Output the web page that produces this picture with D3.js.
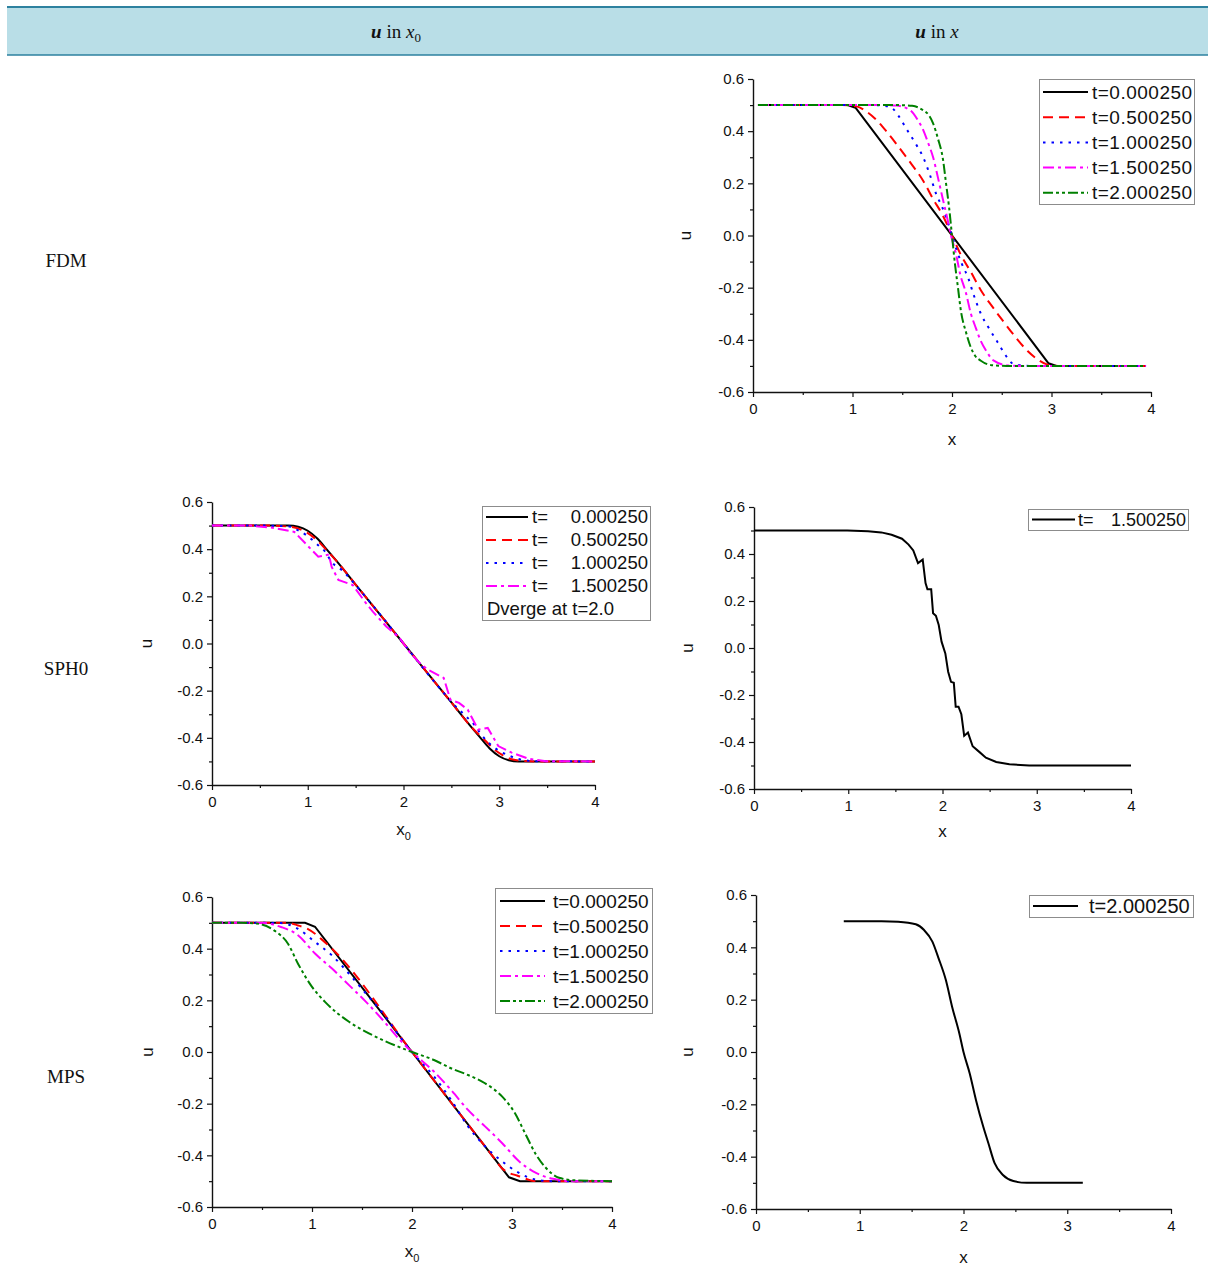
<!DOCTYPE html>
<html>
<head>
<meta charset="utf-8">
<script src="https://cdn.jsdelivr.net/npm/d3@7"></script>
<style>
  body { margin: 0; background: #fff; }
  svg { display: block; }
</style>
</head>
<body>
<svg id="fig" width="1208" height="1273"></svg>
<script>
// ---------- axis ticks and labels ----------
const xTicks = [0, 1, 2, 3, 4];
const xMinor = [0.5, 1.5, 2.5, 3.5];
const yTicks = [-0.6, -0.4, -0.2, 0.0, 0.2, 0.4, 0.6];
const yMinor = [-0.5, -0.3, -0.1, 0.1, 0.3, 0.5];
const rowLabels = ["FDM", "SPH0", "MPS"];

// ---------- FDM: u against x ----------
const fdmLabels = ["t=0.000250", "t=0.500250", "t=1.000250", "t=1.500250", "t=2.000250"];
const fdmT0 = [[0.05,0.5],[0.95,0.5],[1.03,0.49],[2.97,-0.49],[3.05,-0.5],[3.95,-0.5]];
const fdmT05 = [[0.05,0.5],[0.9,0.5],[1.04,0.495],[1.14,0.475],[1.24,0.443],[1.35,0.395],[1.475,0.334],[1.6,0.27],[1.71,0.21],[1.81,0.14],[1.91,0.075],[2.0,0],[2.09,-0.075],[2.19,-0.14],[2.29,-0.21],[2.4,-0.27],[2.525,-0.334],[2.65,-0.395],[2.76,-0.443],[2.86,-0.475],[2.96,-0.495],[3.1,-0.5],[3.95,-0.5]];
const fdmT10 = [[0.05,0.5],[1.2,0.5],[1.375,0.494],[1.46,0.46],[1.54,0.41],[1.63,0.355],[1.71,0.3],[1.78,0.23],[1.84,0.16],[1.9,0.11],[1.95,0.06],[2.0,0],[2.05,-0.06],[2.1,-0.11],[2.16,-0.16],[2.22,-0.23],[2.29,-0.3],[2.37,-0.355],[2.46,-0.41],[2.54,-0.46],[2.625,-0.494],[2.8,-0.5],[3.95,-0.5]];
const fdmT15 = [[0.05,0.5],[1.3,0.5],[1.44,0.498],[1.58,0.48],[1.66,0.44],[1.71,0.405],[1.76,0.355],[1.81,0.3],[1.86,0.22],[1.91,0.136],[1.95,0.07],[1.99,0.0],[2.04,-0.07],[2.08,-0.145],[2.14,-0.22],[2.19,-0.3],[2.24,-0.355],[2.29,-0.405],[2.34,-0.44],[2.42,-0.48],[2.56,-0.498],[2.7,-0.5],[3.95,-0.5]];
const fdmT20 = [[0.05,0.5],[1.45,0.5],[1.6,0.497],[1.71,0.48],[1.77,0.46],[1.81,0.43],[1.86,0.37],[1.91,0.29],[1.94,0.2],[1.97,0.11],[2.0,0],[2.03,-0.11],[2.06,-0.2],[2.09,-0.29],[2.14,-0.37],[2.19,-0.43],[2.23,-0.46],[2.29,-0.48],[2.4,-0.497],[2.55,-0.5],[3.95,-0.5]];

// ---------- SPH0: u against x0 ----------
const sphTimes = ["0.000250", "0.500250", "1.000250", "1.500250"];
const sphNote = "Dverge at t=2.0";
const sphT0 = [[0,0.5],[0.8,0.5],[0.9,0.495],[1.0,0.478],[1.1,0.445],[1.2,0.398],[1.3,0.35],[1.5,0.25],[2,0],[2.5,-0.25],[2.7,-0.35],[2.8,-0.398],[2.9,-0.445],[3.0,-0.478],[3.1,-0.495],[3.2,-0.5],[4,-0.5]];
const sphT05 = [[0,0.5],[0.6,0.5],[0.83,0.494],[1.0,0.468],[1.1,0.437],[1.18,0.403],[1.3,0.35],[1.5,0.25],[2,0],[2.5,-0.25],[2.7,-0.35],[2.85,-0.41],[2.95,-0.45],[3.03,-0.472],[3.12,-0.49],[3.2,-0.496],[3.38,-0.5],[4,-0.5]];
const sphT10 = [[0,0.5],[0.5,0.5],[0.79,0.497],[0.9,0.48],[1.0,0.455],[1.1,0.42],[1.18,0.39],[1.25,0.345],[1.36,0.31],[1.47,0.262],[1.6,0.2],[2,0],[2.4,-0.2],[2.53,-0.26],[2.63,-0.3],[2.74,-0.345],[2.82,-0.39],[2.9,-0.425],[3.0,-0.455],[3.1,-0.475],[3.2,-0.49],[3.38,-0.499],[4,-0.5]];
const sphT15 = [[0,0.5],[0.4,0.5],[0.65,0.49],[0.86,0.473],[1.06,0.389],[1.11,0.368],[1.22,0.377],[1.25,0.325],[1.32,0.269],[1.47,0.248],[1.61,0.17],[1.68,0.135],[1.82,0.072],[1.96,0.023],[2.07,-0.04],[2.17,-0.083],[2.25,-0.11],[2.42,-0.146],[2.49,-0.238],[2.58,-0.252],[2.67,-0.28],[2.78,-0.365],[2.88,-0.358],[2.99,-0.435],[3.13,-0.463],[3.31,-0.489],[3.49,-0.499],[4,-0.5]];

// ---------- SPH0: u against x ----------
const sphXTime = "1.500250";
const sphX15 = [[0,0.5],[0.99,0.5],[1.21,0.497],[1.35,0.492],[1.46,0.482],[1.57,0.465],[1.64,0.44],[1.69,0.415],[1.74,0.361],[1.79,0.376],[1.82,0.276],[1.84,0.25],[1.88,0.25],[1.9,0.148],[1.93,0.137],[1.96,0.098],[1.99,0.027],[2.03,-0.023],[2.06,-0.101],[2.09,-0.144],[2.12,-0.148],[2.14,-0.25],[2.17,-0.25],[2.2,-0.282],[2.23,-0.374],[2.27,-0.36],[2.32,-0.418],[2.39,-0.442],[2.46,-0.467],[2.57,-0.485],[2.71,-0.495],[2.92,-0.5],[4,-0.5]];

// ---------- MPS: u against x0 ----------
const mpsLabels = ["t=0.000250", "t=0.500250", "t=1.000250", "t=1.500250", "t=2.000250"];
const mpsT0 = [[0,0.5],[0.93,0.5],[1.03,0.485],[2,0],[2.97,-0.485],[3.08,-0.5],[4,-0.5]];
const mpsT05 = [[0,0.5],[0.75,0.5],[0.86,0.49],[0.95,0.478],[1.03,0.458],[1.1,0.435],[1.2,0.4],[2,0],[2.8,-0.4],[2.9,-0.45],[2.97,-0.468],[3.05,-0.478],[3.1,-0.485],[3.2,-0.498],[3.3,-0.5],[4,-0.5]];
const mpsT10 = [[0,0.5],[0.55,0.5],[0.69,0.499],[0.86,0.477],[1.03,0.426],[1.2,0.374],[1.37,0.303],[1.54,0.226],[1.71,0.149],[1.88,0.059],[2,0],[2.22,-0.095],[2.39,-0.185],[2.56,-0.288],[2.73,-0.365],[2.9,-0.423],[3.07,-0.468],[3.24,-0.494],[3.41,-0.5],[4,-0.5]];
const mpsT15 = [[0,0.5],[0.4,0.5],[0.52,0.499],[0.69,0.484],[0.86,0.452],[1.03,0.381],[1.2,0.323],[1.37,0.259],[1.54,0.194],[1.71,0.123],[1.88,0.046],[2,0],[2.22,-0.076],[2.39,-0.147],[2.56,-0.224],[2.73,-0.288],[2.9,-0.352],[3.07,-0.423],[3.24,-0.468],[3.41,-0.491],[3.58,-0.5],[4,-0.5]];
const mpsT20 = [[0,0.5],[0.3,0.5],[0.45,0.497],[0.62,0.471],[0.76,0.419],[0.86,0.342],[1.0,0.252],[1.13,0.194],[1.37,0.117],[1.54,0.078],[1.71,0.046],[1.88,0.018],[2,0],[2.22,-0.031],[2.39,-0.063],[2.56,-0.089],[2.73,-0.121],[2.9,-0.172],[3.03,-0.237],[3.13,-0.314],[3.24,-0.397],[3.34,-0.449],[3.47,-0.487],[3.64,-0.497],[4,-0.5]];

// ---------- MPS: u against x ----------
const mpsXLabel = "t=2.000250";
const mpsX20 = [[0.846,0.5],[1.21,0.5],[1.37,0.498],[1.54,0.488],[1.62,0.466],[1.70,0.422],[1.76,0.358],[1.83,0.275],[1.89,0.173],[1.96,0.071],[2.0,0],[2.06,-0.082],[2.12,-0.183],[2.19,-0.285],[2.24,-0.349],[2.30,-0.425],[2.38,-0.47],[2.48,-0.493],[2.61,-0.5],[3.15,-0.5]];

// ---------- line styles ----------
const styles = [
  { color: "#000000", dash: null },
  { color: "#ff0000", dash: "10,6" },
  { color: "#0000ff", dash: "2.5,6" },
  { color: "#ff00ff", dash: "11,4,3,4" },
  { color: "#008000", dash: "10,3,3,3,3,3" }
];

const SANS = "'Liberation Sans', Arial, sans-serif";
const SERIF = "'Liberation Serif', 'Times New Roman', serif";

const svg = d3.select("#fig");

// ---------- table header ----------
svg.append("rect").attr("x", 7).attr("y", 7).attr("width", 1201).attr("height", 48).attr("fill", "#b9dee7");
svg.append("line").attr("x1", 7).attr("x2", 1208).attr("y1", 7).attr("y2", 7).attr("stroke", "#2d819f").attr("stroke-width", 2);
svg.append("line").attr("x1", 7).attr("x2", 1208).attr("y1", 55).attr("y2", 55).attr("stroke", "#2d819f").attr("stroke-width", 1.5);

function headerText(cx, sub) {
  const t = svg.append("text").attr("x", cx).attr("y", 38).attr("text-anchor", "middle")
    .attr("font-family", SERIF).attr("font-size", 19).attr("fill", "#111");
  t.append("tspan").attr("font-style", "italic").attr("font-weight", "bold").text("u");
  t.append("tspan").text(" in ");
  t.append("tspan").attr("font-style", "italic").text("x");
  if (sub) t.append("tspan").attr("font-size", 13).attr("dy", 4).text(sub);
}
headerText(396, "0");
headerText(937, null);

// ---------- row labels ----------
const rowY = [267, 675, 1083];
rowLabels.forEach((s, i) => {
  svg.append("text").attr("x", 66).attr("y", rowY[i]).attr("text-anchor", "middle")
    .attr("font-family", SERIF).attr("font-size", 19).attr("fill", "#111").text(s);
});

// ---------- panel definitions ----------
const panels = [
  { left: 753, right: 1151, top: 79, bottom: 392, xSub: false, xTitleY: 445, yTitleX: 691,
    series: [fdmT0, fdmT05, fdmT10, fdmT15, fdmT20], curves: ["lin","mono","mono","mono","mono"],
    legend: { x: 1039, y: 79, w: 155, h: 125, row0: 92, step: 25.2, l0: 1043, l1: 1088, tx: 1092, fs: 19, ls: 0.5,
              labels: fdmLabels } },
  { left: 212, right: 595, top: 502, bottom: 785, xSub: true, xTitleY: 835, yTitleX: 152,
    series: [sphT0, sphT05, sphT10, sphT15], curves: ["mono","mono","mono","lin"],
    legend: { x: 482, y: 506, w: 168, h: 114, row0: 517, step: 23, l0: 486, l1: 528, tx: 532, vx: 648, fs: 18.5, ls: 0,
              values: sphTimes, note: sphNote } },
  { left: 754, right: 1131, top: 507, bottom: 789, xSub: false, xTitleY: 837, yTitleX: 693,
    series: [sphX15], curves: ["lin"],
    legend: { x: 1028, y: 509, w: 160, h: 21, row0: 519.5, step: 0, l0: 1032, l1: 1075, tx: 1078, vx: 1186, fs: 18, ls: 0,
              values: [sphXTime] } },
  { left: 212, right: 612, top: 897, bottom: 1207, xSub: true, xTitleY: 1257, yTitleX: 153,
    series: [mpsT0, mpsT05, mpsT10, mpsT15, mpsT20], curves: ["lin","mono","mono","mono","mono"],
    legend: { x: 495, y: 888, w: 157, h: 125, row0: 901, step: 25, l0: 500, l1: 545, tx: 553, fs: 19, ls: 0,
              labels: mpsLabels } },
  { left: 756, right: 1171, top: 895, bottom: 1209, xSub: false, xTitleY: 1263, yTitleX: 693,
    series: [mpsX20], curves: ["mono"],
    legend: { x: 1029, y: 895, w: 164, h: 22, row0: 906, step: 0, l0: 1033, l1: 1078, tx: 1089, fs: 20, ls: 0,
              labels: [mpsXLabel] } }
];

const fmt = d => d.toFixed(1);

panels.forEach(p => {
  const x = d3.scaleLinear().domain([0, 4]).range([p.left, p.right]);
  const y = d3.scaleLinear().domain([-0.6, 0.6]).range([p.bottom, p.top]);
  const g = svg.append("g");

  // minor ticks
  g.append("g").attr("transform", `translate(0,${p.bottom})`)
    .call(d3.axisBottom(x).tickValues(xMinor).tickSize(3).tickSizeOuter(0).tickFormat(""))
    .call(a => a.select(".domain").remove());
  g.append("g").attr("transform", `translate(${p.left},0)`)
    .call(d3.axisLeft(y).tickValues(yMinor).tickSize(3).tickSizeOuter(0).tickFormat(""))
    .call(a => a.select(".domain").remove());

  // major axes
  const ax = g.append("g").attr("transform", `translate(0,${p.bottom})`)
    .call(d3.axisBottom(x).tickValues(xTicks).tickSize(5).tickSizeOuter(0).tickPadding(6).tickFormat(d3.format("d")));
  const ay = g.append("g").attr("transform", `translate(${p.left},0)`)
    .call(d3.axisLeft(y).tickValues(yTicks).tickSize(5).tickSizeOuter(0).tickPadding(4).tickFormat(fmt));
  [ax, ay].forEach(a => {
    a.attr("font-family", SANS).attr("font-size", 15);
    a.selectAll("text").attr("fill", "#111");
    a.select(".domain").attr("stroke", "#111").attr("stroke-width", 1.4);
  });
  g.selectAll(".tick line").attr("stroke", "#111").attr("stroke-width", 1.2);

  // axis titles
  const xt = g.append("text").attr("x", (p.left + p.right) / 2).attr("y", p.xTitleY)
    .attr("text-anchor", "middle").attr("font-family", SANS).attr("font-size", 17).attr("fill", "#111");
  xt.append("tspan").text("x");
  if (p.xSub) xt.append("tspan").attr("font-size", 11).attr("dy", 5).text("0");
  g.append("text").attr("transform", `translate(${p.yTitleX},${(p.top + p.bottom) / 2}) rotate(-90)`)
    .attr("text-anchor", "middle").attr("font-family", SANS).attr("font-size", 17).attr("fill", "#111").text("u");

  // curves
  p.series.forEach((data, i) => {
    const line = d3.line().x(d => x(d[0])).y(d => y(d[1]))
      .curve(p.curves[i] === "mono" ? d3.curveMonotoneX : d3.curveLinear);
    g.append("path").datum(data).attr("d", line).attr("fill", "none")
      .attr("stroke", styles[i].color).attr("stroke-width", 2)
      .attr("stroke-dasharray", styles[i].dash);
  });

  // legend
  const L = p.legend;
  const lg = svg.append("g");
  lg.append("rect").attr("x", L.x + 0.5).attr("y", L.y + 0.5).attr("width", L.w).attr("height", L.h)
    .attr("fill", "#fff").attr("stroke", "#8c8c8c").attr("stroke-width", 1);
  const n = p.series.length;
  const label = (xx, yy, s, anchor) => lg.append("text").attr("x", xx).attr("y", yy).attr("dy", "0.35em")
    .attr("text-anchor", anchor).attr("letter-spacing", L.ls)
    .attr("font-family", SANS).attr("font-size", L.fs).attr("fill", "#111").text(s);
  for (let i = 0; i < n; i++) {
    const yy = L.row0 + i * L.step;
    lg.append("line").attr("x1", L.l0).attr("x2", L.l1).attr("y1", yy).attr("y2", yy)
      .attr("stroke", styles[i].color).attr("stroke-width", 2).attr("stroke-dasharray", styles[i].dash);
    if (L.labels) {
      label(L.tx, yy, L.labels[i], "start");
    } else {
      label(L.tx, yy, "t=", "start");
      label(L.vx, yy, L.values[i], "end");
    }
  }
  if (L.note) label(L.l0 + 1, L.row0 + n * L.step, L.note, "start");
});
</script>
</body>
</html>
